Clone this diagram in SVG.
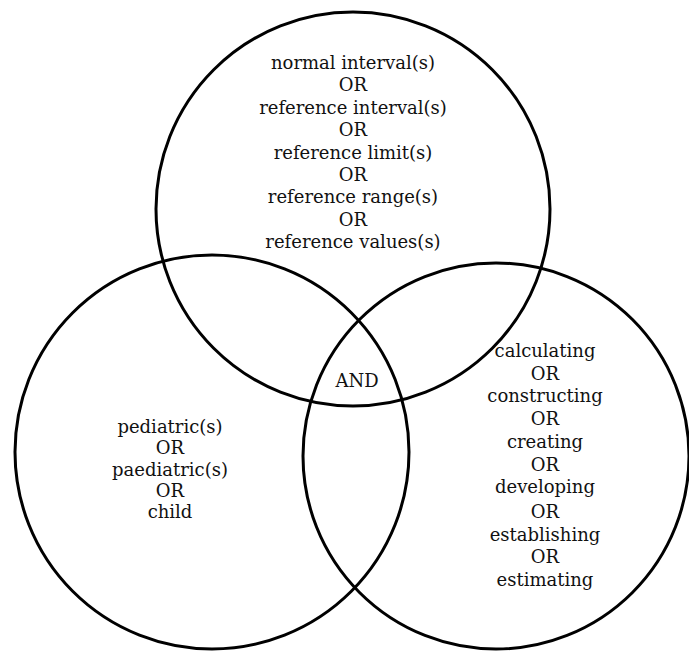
<svg xmlns="http://www.w3.org/2000/svg" width="689" height="651" viewBox="0 0 689 651">
<style>
.c{fill:none;stroke:#000;stroke-width:3}
text{font-family:"DejaVu Serif","Liberation Serif",serif;font-size:18px;fill:#111;text-anchor:middle}
</style>
<rect width="689" height="651" fill="#fff"/>
<g id="top-set">
<circle class="c" cx="353" cy="209" r="197"/>
<text x="353" y="69">normal interval(s)</text>
<text x="353" y="91.4">OR</text>
<text x="353" y="113.8">reference interval(s)</text>
<text x="353" y="136.2">OR</text>
<text x="353" y="158.6">reference limit(s)</text>
<text x="353" y="181">OR</text>
<text x="353" y="203.4">reference range(s)</text>
<text x="353" y="225.8">OR</text>
<text x="353" y="248.2">reference values(s)</text>
</g>
<g id="left-set">
<circle class="c" cx="212" cy="452" r="197"/>
<text x="170" y="433">pediatric(s)</text>
<text x="170" y="454.3">OR</text>
<text x="170" y="475.6">paediatric(s)</text>
<text x="170" y="496.9">OR</text>
<text x="170" y="518.2">child</text>
</g>
<g id="right-set">
<circle class="c" cx="496" cy="456" r="193"/>
<text x="545" y="357">calculating</text>
<text x="545" y="379.7">OR</text>
<text x="545" y="402.4">constructing</text>
<text x="545" y="425.1">OR</text>
<text x="545" y="447.8">creating</text>
<text x="545" y="470.5">OR</text>
<text x="545" y="493.2">developing</text>
<text x="545" y="518">OR</text>
<text x="545" y="540.7">establishing</text>
<text x="545" y="563.4">OR</text>
<text x="545" y="586">estimating</text>
</g>
<g id="intersection">
<text x="357" y="387">AND</text>
</g>
<g id="connectors"></g>
</svg>
